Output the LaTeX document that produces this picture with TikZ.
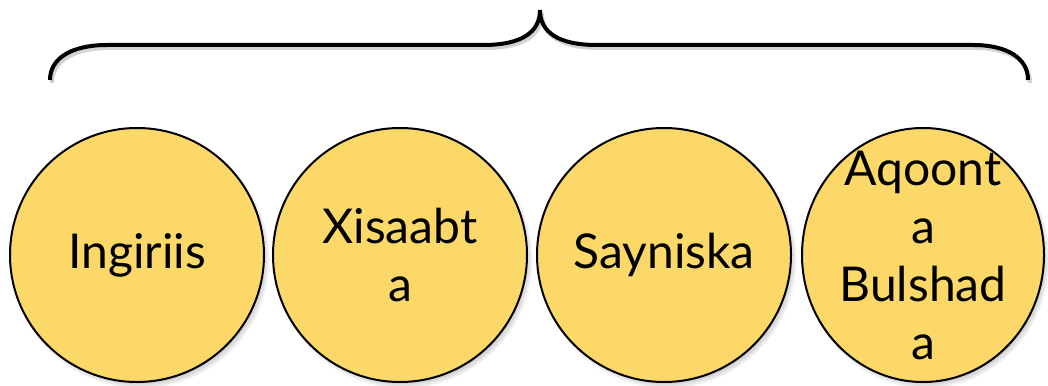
\documentclass[tikz,border=0pt]{standalone}
\usepackage{fontspec}
\setmainfont{Lato}
\usetikzlibrary{shadows,shapes.geometric}
\definecolor{cfill}{RGB}{252,216,104}
\begin{document}
\begin{tikzpicture}[x=1pt,y=-1pt,
  bub/.style={circle, draw=black, line width=2pt, fill=cfill,
    minimum size=254pt, inner sep=0pt,
    circular drop shadow={shadow xshift=3pt, shadow yshift=-4pt, shadow scale=1.02}},
  bubell/.style={bub, ellipse, minimum width=242pt, minimum height=254pt},
  txt/.style={align=center, inner sep=0pt, font=\fontsize{48}{58}\selectfont},
  bracepath/.style={line width=4pt, line cap=butt}
  ]
\useasboundingbox (0,0) rectangle (1048,385);
% brace shadow
\begin{scope}[shift={(2,3)}]
\draw[bracepath, black!35, opacity=0.5]
  (50,80) .. controls (50,58) and (72,45) .. (107,45) -- (483,45)
  .. controls (522,45) and (540,32) .. (540,10)
  .. controls (540,32) and (558,45) .. (597,45) -- (973,45)
  .. controls (1007,45) and (1028,58) .. (1028,80);
\end{scope}
\draw[bracepath]
  (50,80) .. controls (50,58) and (72,45) .. (107,45) -- (483,45)
  .. controls (522,45) and (540,32) .. (540,10)
  .. controls (540,32) and (558,45) .. (597,45) -- (973,45)
  .. controls (1007,45) and (1028,58) .. (1028,80);
% circles
\node[bub] (c1) at (137,255) {};
\node[bub] (c2) at (400,255) {};
\node[bub] (c3) at (664,255) {};
\node[bubell] (c4) at (923,255) {};
% labels
\node[txt] (t1) at (c1) {Ingiriis};
\node[txt] (t2) at (c2) {Xisaabt\\a};
\node[txt] (t3) at (c3) {Sayniska};
\node[txt] (t4) at (c4) {Aqoont\\a\\Bulshad\\a};
\end{tikzpicture}
\end{document}
